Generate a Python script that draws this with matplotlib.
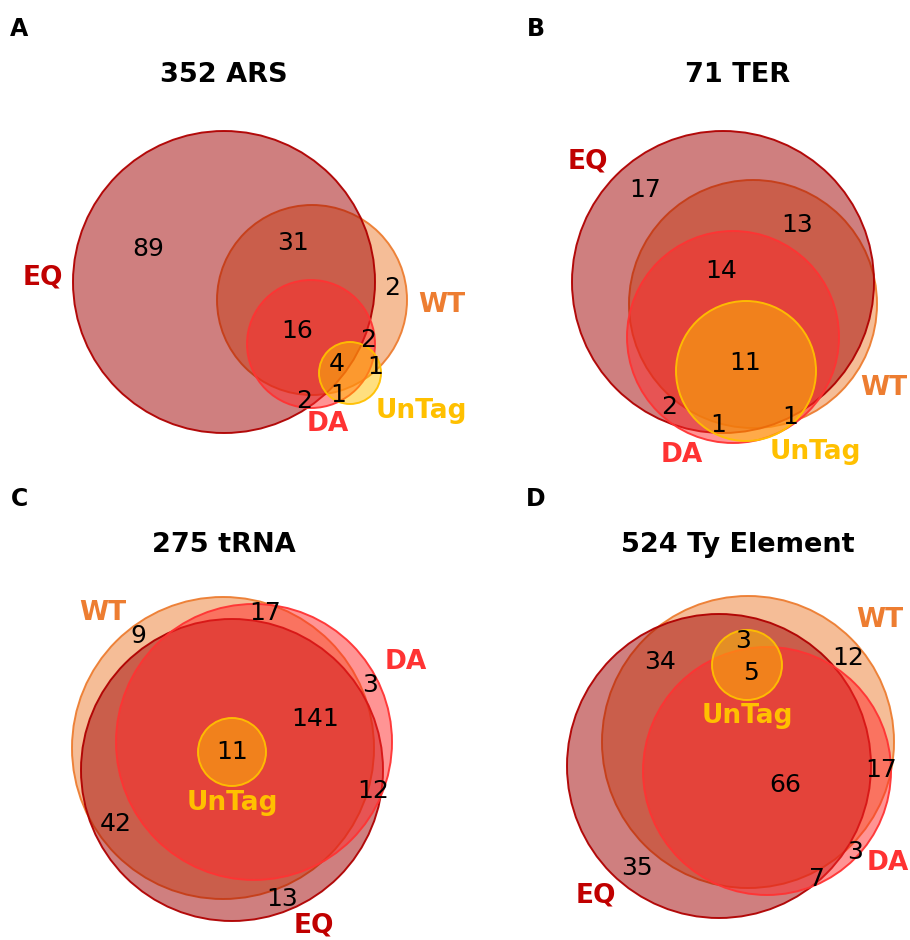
import matplotlib.pyplot as plt
from matplotlib.patches import Circle

# ---- data ----
panel_letters = ["A", "B", "C", "D"]
titles = ["352 ARS", "71 TER", "275 tRNA", "524 Ty Element"]
set_names = ["EQ", "WT", "DA", "UnTag"]

counts_A = [89, 31, 2, 16, 2, 4, 1, 1, 2]
counts_B = [17, 13, 14, 11, 2, 1, 1]
counts_C = [9, 17, 3, 141, 11, 12, 42, 13]
counts_D = [3, 5, 34, 12, 17, 66, 3, 7, 35]

# ---- layout (pixel coords inside each quadrant, y down) ----
# circles: set -> (cx, cy, r)
circles = {
    "A": {"EQ": (224, 282, 151), "WT": (312, 300, 95), "DA": (311, 344, 64), "UnTag": (350, 373, 31)},
    "B": {"EQ": (268, 282, 151), "WT": (298, 304, 124), "DA": (278, 337, 106), "UnTag": (291, 371, 70)},
    "C": {"EQ": (232, 300, 151), "WT": (223, 278, 151), "DA": (254, 272, 138), "UnTag": (232, 282, 34)},
    "D": {"EQ": (264, 296, 152), "WT": (293, 272, 146), "DA": (312, 301, 124), "UnTag": (292, 195, 35)},
}
set_label_pos = {
    "A": {"EQ": (43, 277), "WT": (442, 305), "DA": (328, 424), "UnTag": (421, 411)},
    "B": {"EQ": (133, 162), "WT": (429, 388), "DA": (227, 455), "UnTag": (360, 452)},
    "C": {"EQ": (314, 456), "WT": (103, 143), "DA": (406, 192), "UnTag": (232, 333)},
    "D": {"EQ": (141, 425), "WT": (425, 150), "DA": (433, 393), "UnTag": (292, 246)},
}
count_pos = {
    "A": [(148, 249), (293, 243), (392, 288), (297, 331), (368, 340), (337, 364), (375, 367), (338, 395), (304, 401)],
    "B": [(190, 190), (342, 225), (266, 271), (290, 363), (214, 407), (263, 425), (335, 417)],
    "C": [(138, 166), (265, 143), (370, 215), (315, 249), (232, 282), (373, 321), (116, 354), (282, 429)],
    "D": [(288, 171), (296, 203), (205, 192), (393, 188), (426, 300), (330, 315), (400, 382), (362, 409), (182, 398)],
}
all_counts = {"A": counts_A, "B": counts_B, "C": counts_C, "D": counts_D}

face = {"EQ": "#a00000", "WT": "#ed7d31", "DA": "#ff2a2a", "UnTag": "#ffc000"}
edge = {"EQ": "#b00000", "WT": "#ed7d31", "DA": "#ff3333", "UnTag": "#ffc000"}
label_col = {"EQ": "#c00000", "WT": "#ed7d31", "DA": "#ff3333", "UnTag": "#ffc000"}
draw_order = ["WT", "EQ", "DA", "UnTag"]

fig = plt.figure(figsize=(9.1, 9.4), dpi=100)
rects = {"A": [0, 0.5, 0.5, 0.5], "B": [0.5, 0.5, 0.5, 0.5],
         "C": [0, 0, 0.5, 0.5], "D": [0.5, 0, 0.5, 0.5]}

for i, p in enumerate(panel_letters):
    ax = fig.add_axes(rects[p])
    ax.set_xlim(0, 455)
    ax.set_ylim(470, 0)
    ax.axis("off")

    for s in draw_order:
        cx, cy, r = circles[p][s]
        ax.add_patch(Circle((cx, cy), r, facecolor=face[s], alpha=0.5, edgecolor="none"))
        ax.add_patch(Circle((cx, cy), r, facecolor="none", edgecolor=edge[s], lw=1.4, alpha=0.95))

    for s in set_names:
        x, y = set_label_pos[p][s]
        ax.text(x, y, s, color=label_col[s], fontsize=19, fontweight="bold", ha="center", va="center")

    for c, (x, y) in zip(all_counts[p], count_pos[p]):
        ax.text(x, y, str(c), fontsize=18, ha="center", va="center", color="black")

    tx = 224 if p in ("A", "C") else 283
    ax.text(tx, 75, titles[i], fontsize=19.5, fontweight="bold", ha="center", va="center")
    ax.text(19 if p in ("A", "C") else 81, 29, p, fontsize=17, fontweight="bold", ha="center", va="center")

fig.savefig("out.png", dpi=100)
